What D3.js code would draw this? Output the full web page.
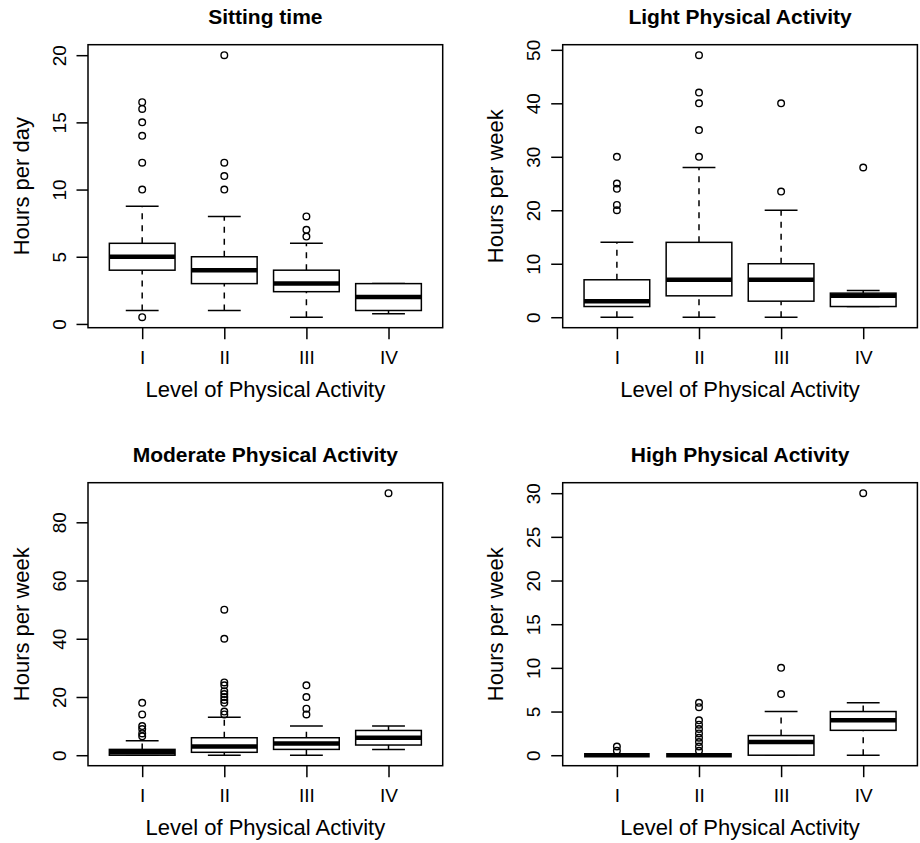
<!DOCTYPE html>
<html>
<head>
<meta charset="utf-8">
<script src="https://cdn.jsdelivr.net/npm/d3@7"></script>
<style>
  body { margin: 0; background: #fff; }
  svg text { font-family: "Liberation Sans", Arial, Helvetica, sans-serif; fill: #000; }
</style>
</head>
<body>
<svg id="chart" width="920" height="843"></svg>
<script>
// level categories on the x axis
var levels = ["I", "II", "III", "IV"];

// box stats per level: [lower whisker, q1, median, q3, upper whisker]
var sittingStats = [[1, 4, 5, 6, 8.75], [1, 3, 4, 5, 8], [0.5, 2.4, 3, 4, 6], [0.75, 1, 2, 3, 3]];
var sittingOut = [[0.5, 10, 12, 14, 15, 16, 16.5], [10, 11, 12, 20], [6.5, 7, 8], []];

var lightStats = [[0, 2, 3, 7, 14], [0, 4, 7, 14, 28], [0, 3, 7, 10, 20], [2, 2, 4, 4.5, 5]];
var lightOut = [[20, 21, 24, 25, 30], [30, 35, 40, 42, 49], [23.5, 40], [28]];

var moderateStats = [[0, 0, 1, 2, 5], [0, 1, 3, 6, 13], [0, 2, 4, 6, 10], [2, 3.5, 6, 8.5, 10]];
var moderateOut = [[6.5, 7.5, 9, 10, 14, 18], [14, 15, 18, 19, 20, 21, 22, 24, 25, 40, 50], [14, 16, 20, 24], [90]];

var highStats = [[0, 0, 0, 0, 0], [0, 0, 0, 0, 0], [0, 0, 1.5, 2.25, 5], [0, 2.85, 4, 5, 6]];
var highOut = [[0.5, 1], [0.5, 1, 1.5, 2, 2.5, 3, 3.5, 4, 5.5, 6], [7, 10], [30]];

var titles = ["Sitting time", "Light Physical Activity", "Moderate Physical Activity", "High Physical Activity"];
var yLabels = ["Hours per day", "Hours per week", "Hours per week", "Hours per week"];
var yTicks = [[0, 5, 10, 15, 20], [0, 10, 20, 30, 40, 50], [0, 20, 40, 60, 80], [0, 5, 10, 15, 20, 25, 30]];
var xLabel = "Level of Physical Activity";

var panels = [
  { stats: sittingStats, out: sittingOut, left: 88, top: 44.7 },
  { stats: lightStats, out: lightOut, left: 562.7, top: 44.7 },
  { stats: moderateStats, out: moderateOut, left: 88, top: 482.7 },
  { stats: highStats, out: highOut, left: 562.7, top: 482.7 }
];

var plotW = 354.7, plotH = 283;
var lw = 1.5, tick = 11.5;
var svg = d3.select("#chart");

panels.forEach(function (p, pi) {
  var g = svg.append("g").attr("transform", "translate(" + p.left + "," + p.top + ")");

  // R style ranges: 4% padding on each side
  var all = [];
  p.stats.forEach(function (s) { all = all.concat(s); });
  p.out.forEach(function (o) { all = all.concat(o); });
  var mn = d3.min(all), mx = d3.max(all), pad = (mx - mn) * 0.04;

  var y = d3.scaleLinear().domain([mn - pad, mx + pad]).range([plotH, 0]);
  var x = d3.scaleLinear().domain([0.5 - 0.16, levels.length + 0.5 + 0.16]).range([0, plotW]);

  // y axis
  var ya = g.append("g").call(d3.axisLeft(y).tickValues(yTicks[pi]).tickSize(tick).tickFormat(d3.format("d")));
  ya.select(".domain").remove();
  ya.selectAll("line").attr("stroke", "#000").attr("stroke-width", lw);
  ya.selectAll("text")
    .attr("transform", "rotate(-90)")
    .attr("x", 0).attr("dy", null)
    .attr("y", -22.3)
    .attr("text-anchor", "middle")
    .style("font-size", "19px");

  // x axis
  var xa = g.append("g").attr("transform", "translate(0," + plotH + ")")
    .call(d3.axisBottom(x).tickValues([1, 2, 3, 4]).tickSize(tick).tickFormat(function (d) { return levels[d - 1]; }));
  xa.select(".domain").remove();
  xa.selectAll("line").attr("stroke", "#000").attr("stroke-width", lw);
  xa.selectAll("text").attr("dy", null).attr("y", 36.6).style("font-size", "19px");

  // boxes
  var bw = 0.4, sw = 0.2;
  p.stats.forEach(function (s, i) {
    var c = i + 1;
    var bx = g.append("g");
    // whiskers
    [[s[0], s[1]], [s[3], s[4]]].forEach(function (w) {
      bx.append("line")
        .attr("x1", x(c)).attr("x2", x(c))
        .attr("y1", y(w[0])).attr("y2", y(w[1]))
        .attr("stroke", "#000").attr("stroke-width", lw)
        .attr("stroke-dasharray", "6,6");
    });
    // staples
    [s[0], s[4]].forEach(function (v) {
      bx.append("line")
        .attr("x1", x(c - sw)).attr("x2", x(c + sw))
        .attr("y1", y(v)).attr("y2", y(v))
        .attr("stroke", "#000").attr("stroke-width", lw);
    });
    // box
    bx.append("rect")
      .attr("x", x(c - bw)).attr("width", x(c + bw) - x(c - bw))
      .attr("y", y(s[3])).attr("height", y(s[1]) - y(s[3]))
      .attr("fill", "#fff").attr("stroke", "#000").attr("stroke-width", lw);
    // median
    bx.append("line")
      .attr("x1", x(c - bw)).attr("x2", x(c + bw))
      .attr("y1", y(s[2])).attr("y2", y(s[2]))
      .attr("stroke", "#000").attr("stroke-width", 4.5);
    // outliers
    bx.selectAll("circle").data(p.out[i]).enter().append("circle")
      .attr("cx", x(c)).attr("cy", function (d) { return y(d); })
      .attr("r", 3.3)
      .attr("fill", "none").attr("stroke", "#000").attr("stroke-width", 1.4);
  });

  // frame
  g.append("rect").attr("width", plotW).attr("height", plotH)
    .attr("fill", "none").attr("stroke", "#000").attr("stroke-width", lw);

  // title
  g.append("text").attr("x", plotW / 2).attr("y", -21)
    .attr("text-anchor", "middle").style("font-size", "21px").style("font-weight", "bold")
    .text(titles[pi]);
  // x label
  g.append("text").attr("x", plotW / 2).attr("y", plotH + 69.5)
    .attr("text-anchor", "middle").style("font-size", "22px")
    .text(xLabel);
  // y label
  g.append("text").attr("transform", "rotate(-90)")
    .attr("x", -plotH / 2).attr("y", -59.3)
    .attr("text-anchor", "middle").style("font-size", "22px")
    .text(yLabels[pi]);
});
</script>
</body>
</html>
